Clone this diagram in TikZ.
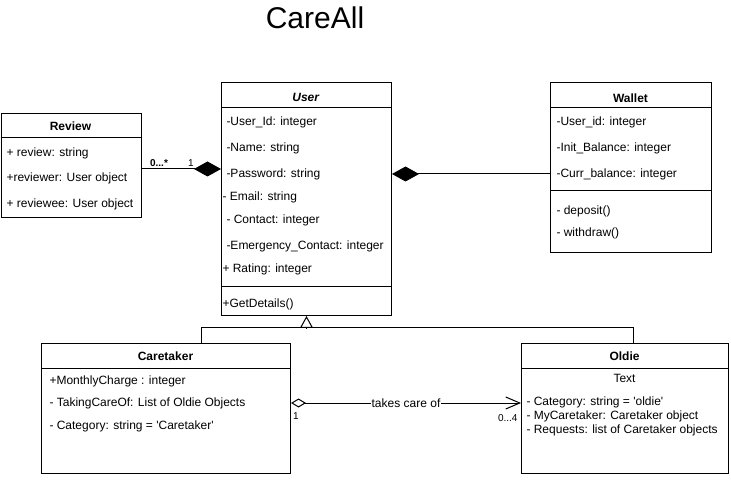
\documentclass[tikz,border=0pt]{standalone}
\usepackage{fontspec}
\setmainfont{Liberation Sans}
\usetikzlibrary{arrows.meta,positioning,calc}

\begin{document}
\begin{tikzpicture}[x=1pt,y=-1pt,line width=1pt,font=\fontsize{12}{14}\selectfont,
   cls/.style={draw,rectangle,inner sep=0pt,anchor=north west},
   hd/.style={font=\fontsize{12}{14}\selectfont\bfseries},
   att/.style={anchor=west,inner sep=0pt,text height=8.6pt,text depth=2.5pt},
   lbl/.style={font=\fontsize{10}{12}\selectfont,inner sep=0pt},
   comp/.style={-{Diamond[length=27pt,width=15pt]}}]
  \useasboundingbox (0,0) rectangle (731,486);
  \node[font=\fontsize{30}{36}\selectfont] (title) at (315,18) {CareAll};

  \node[cls,minimum width=140pt,minimum height=104pt] (review) at (0.5,113) {};
  \draw ([yshift=-25pt]review.north west) -- ([yshift=-25pt]review.north east);
  \node[hd] (reviewhd) at (70.5,126) {Review};
  \node[att] (review1) at (6,153) {+ review: string};
  \node[att] (review2) at (6,178) {+reviewer: User object};
  \node[att] (review3) at (6,204) {+ reviewee: User object};

  \node[cls,minimum width=170pt,minimum height=233pt] (user) at (221,82) {};
  \draw ([yshift=-26pt]user.north west) -- ([yshift=-26pt]user.north east);
  \draw ([yshift=29pt]user.south west) -- ([yshift=29pt]user.south east);
  \node[hd] (userhd) at (306,97) {\textit{User}};
  \node[att] (user1) at (226,122) {-User\_Id: integer};
  \node[att] (user2) at (226,148) {-Name: string};
  \node[att] (user3) at (226,174) {-Password: string};
  \node[att] (user4) at (222,197) {- Email: string};
  \node[att] (user5) at (226,220) {- Contact: integer};
  \node[att] (user6) at (226,246) {-Emergency\_Contact: integer};
  \node[att] (user7) at (222,269) {+ Rating: integer};
  \node[att] (user8) at (222,304) {+GetDetails()};

  \node[cls,minimum width=161pt,minimum height=170pt] (wallet) at (550,82) {};
  \draw ([yshift=-26pt]wallet.north west) -- ([yshift=-26pt]wallet.north east);
  \draw ([yshift=-109pt]wallet.north west) -- ([yshift=-109pt]wallet.north east);
  \node[hd] (wallethd) at (630.5,98) {Wallet};
  \node[att] (wallet1) at (556,122) {-User\_id: integer};
  \node[att] (wallet2) at (556,148) {-Init\_Balance: integer};
  \node[att] (wallet3) at (556,174) {-Curr\_balance: integer};
  \node[att] (wallet4) at (556,211) {- deposit()};
  \node[att] (wallet5) at (556,233) {- withdraw()};

  \node[cls,minimum width=249pt,minimum height=130pt] (caretaker) at (41,343) {};
  \draw ([yshift=-25pt]caretaker.north west) -- ([yshift=-25pt]caretaker.north east);
  \node[hd] (caretakerhd) at (165.5,356) {Caretaker};
  \node[att] (care1) at (49,381) {+MonthlyCharge : integer};
  \node[att] (care2) at (49,403) {- TakingCareOf: List of Oldie Objects};
  \node[att] (care3) at (49,426) {- Category: string = \textquotesingle Caretaker\textquotesingle};

  \node[cls,minimum width=207pt,minimum height=130pt] (oldie) at (521,343) {};
  \draw ([yshift=-25pt]oldie.north west) -- ([yshift=-25pt]oldie.north east);
  \node[hd] (oldiehd) at (624.5,356) {Oldie};
  \node[att,anchor=center] (oldie0) at (624.5,379) {Text};
  \node[att] (oldie1) at (526,402) {- Category: string = \textquotesingle oldie\textquotesingle};
  \node[att] (oldie2) at (526,416) {- MyCaretaker: Caretaker object};
  \node[att] (oldie3) at (526,430) {- Requests: list of Caretaker objects};

  \coordinate (rv) at (0,169);
  \draw[comp] (review.east |- rv) -- (rv -| user.west);
  \node[lbl,font=\fontsize{10}{12}\selectfont\bfseries] (rvmany) at (159,163) {0...*};
  \node[lbl] (rvone) at (191,163) {1};

  \coordinate (wl) at (0,174);
  \draw[comp] (wallet.west |- wl) -- (wl -| user.east);

  \draw ([xshift=160pt]caretaker.north west) -- ++(0,-15) -| ([xshift=112pt]oldie.north west);
  \draw[-{Triangle[open,length=12pt,width=13pt]}] ([yshift=-13pt]user.south) -- (user.south);

  \coordinate (tk) at (0,403);
  \draw[{Diamond[open,length=15pt,width=9pt]}-{Straight Barb[length=14pt,width=12pt]}]
    (caretaker.east |- tk) -- (tk -| oldie.west)
    node[midway,fill=white,inner sep=1pt] (takes) {takes care of};
  \node[lbl] (tkone) at (296,416) {1};
  \node[lbl,anchor=east] (tkmany) at (518,418) {0...4};
\end{tikzpicture}
\end{document}
